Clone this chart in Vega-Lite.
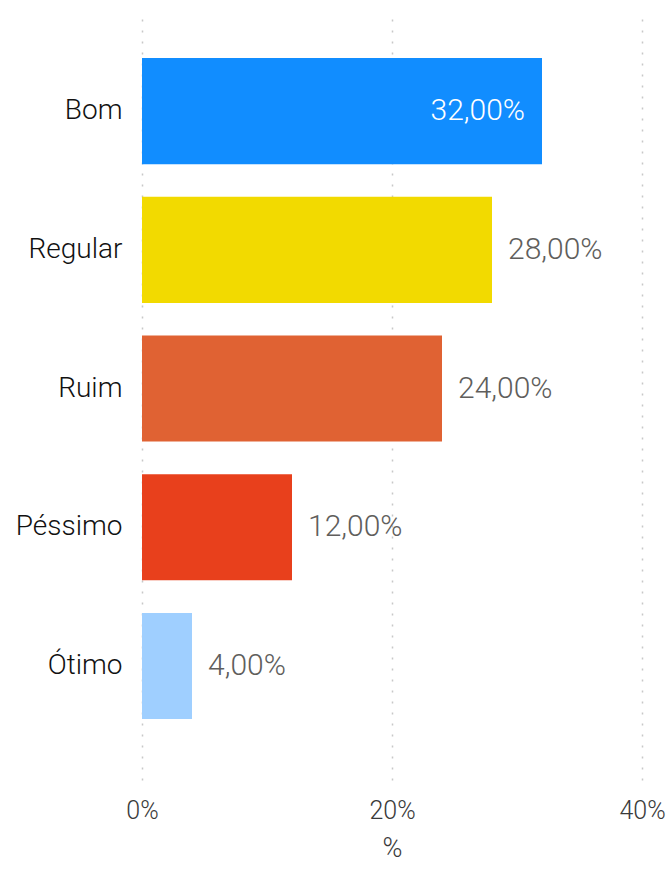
{
  "$schema": "https://vega.github.io/schema/vega-lite/v6.json",
  "width": 500,
  "height": 767,
  "autosize": {"type": "none"},
  "padding": {"left": 142, "top": 13, "right": 27, "bottom": 90},
  "background": "white",
  "config": {"view": {"stroke": null}, "font": "Roboto, sans-serif"},
  "data": {"values": [
    {"categoria": "Bom", "pct": 0.32, "label": "32,00%"},
    {"categoria": "Regular", "pct": 0.28, "label": "28,00%"},
    {"categoria": "Ruim", "pct": 0.24, "label": "24,00%"},
    {"categoria": "Péssimo", "pct": 0.12, "label": "12,00%"},
    {"categoria": "Ótimo", "pct": 0.04, "label": "4,00%"}
  ]},
  "encoding": {
    "y": {
      "field": "categoria", "type": "nominal", "sort": ["Bom", "Regular", "Ruim", "Péssimo", "Ótimo"],
      "scale": {"paddingInner": 0.235, "paddingOuter": 0.382, "align": 0.425},
      "axis": {"title": null, "ticks": false, "domain": false, "grid": false, "labelPadding": 20, "labelFontSize": 28, "labelFontWeight": 300, "labelColor": "#111111", "labelFont": "Roboto, sans-serif"}
    },
    "x": {
      "field": "pct", "type": "quantitative",
      "scale": {"domain": [0, 0.4], "nice": false},
      "axis": {"title": "%", "format": ".0%", "values": [0, 0.2, 0.4], "labelFlush": false, "ticks": false, "domain": false, "grid": true, "gridDash": [2, 9], "gridColor": "#c8c8c8", "gridWidth": 1.5, "labelFontSize": 25, "labelFontWeight": 300, "labelColor": "#3a3a3a", "labelPadding": 18, "titleFontSize": 27, "titleFontWeight": 300, "titleColor": "#3a3a3a", "titlePadding": 12, "labelFont": "Roboto, sans-serif", "titleFont": "Roboto, sans-serif"}
    }
  },
  "layer": [
    {
      "mark": {"type": "bar"},
      "encoding": {
        "color": {
          "field": "categoria", "type": "nominal", "legend": null,
          "scale": {"domain": ["Bom", "Regular", "Ruim", "Péssimo", "Ótimo"], "range": ["#118DFF", "#F2DA00", "#E06233", "#E8401C", "#9FCFFF"]}
        }
      }
    },
    {
      "transform": [{"filter": "datum.pct > 0.3"}],
      "mark": {"type": "text", "align": "right", "dx": -17, "fontSize": 30, "fontWeight": 300, "color": "white", "baseline": "middle"},
      "encoding": {"text": {"field": "label"}}
    },
    {
      "transform": [{"filter": "datum.pct <= 0.3"}],
      "mark": {"type": "text", "align": "left", "dx": 16, "fontSize": 30, "fontWeight": 300, "color": "#605E5C", "baseline": "middle"},
      "encoding": {"text": {"field": "label"}}
    }
  ]
}
